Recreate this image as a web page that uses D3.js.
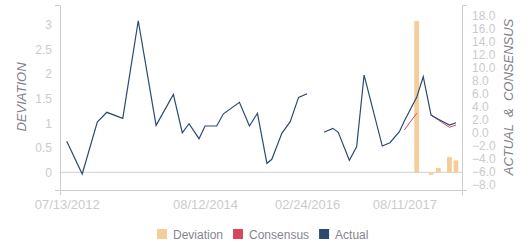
<!DOCTYPE html>
<html>
<head>
<meta charset="utf-8">
<script src="https://cdn.jsdelivr.net/npm/d3@7/dist/d3.min.js"></script>
<style>
	body {margin: 0; background: #fff;}
	svg text {font-family: "Liberation Sans", Arial, sans-serif;}
</style>
</head>
<body>
<div id="chart"></div>
<script>
(function(){
	// quarterly report dates (null actual = gap in the line)
	var dates = ['2012-07-13','2012-10-06','2012-12-28','2013-02-18','2013-05-17','2013-08-10','2013-11-16',
		'2014-02-19','2014-04-09','2014-05-16','2014-07-10','2014-08-12','2014-10-15','2014-11-21',
		'2015-02-17','2015-04-13','2015-05-27','2015-07-18','2015-08-14','2015-10-08','2015-11-23',
		'2016-01-08','2016-02-24','2016-04-10','2016-05-27','2016-07-14','2016-08-13','2016-10-13',
		'2016-11-22','2017-01-02','2017-04-12','2017-05-24','2017-07-15','2017-08-11','2017-10-18',
		'2017-11-23','2018-01-05','2018-02-14','2018-04-16','2018-05-22'];
	var actual = [-1.37,-6.41,1.60,3.10,2.17,17.22,1.09,
		5.87,-0.05,1.34,-0.97,0.99,0.99,2.87,
		4.64,0.99,2.95,-4.76,-4.15,-0.14,1.65,
		5.41,5.97,null,0.02,0.63,0.02,-4.30,
		-2.21,8.85,-2.10,-1.59,0.11,1.76,5.41,
		8.59,2.68,2.02,1.14,1.50];
	var consensus = [null,null,null,null,null,null,null,
		null,null,null,null,null,null,null,
		null,null,null,null,null,null,null,
		null,null,null,null,null,null,null,
		null,null,null,null,null,0.37,2.95,
		null,2.68,1.91,0.79,1.14];
	var deviation = [null,null,null,null,null,null,null,
		null,null,null,null,null,null,null,
		null,null,null,null,null,null,null,
		null,null,null,null,null,null,null,
		null,null,null,null,null,null,3.08,
		null,-0.05,0.09,0.31,0.245];
	var xTicks = ['2012-07-13','2014-08-12','2016-02-24','2017-08-11'];
	var leftTicks = [0, 0.5, 1, 1.5, 2, 2.5, 3];
	var rightTicks = [-8, -6, -4, -2, 0, 2, 4, 6, 8, 10, 12, 14, 16, 18];
	var series = ['Deviation', 'Consensus', 'Actual'];
	var colors = ['#f5cd9b', '#d5475c', '#2c4a70'];

	var parse = d3.timeParse('%Y-%m-%d');
	var fmt = d3.timeFormat('%m/%d/%Y');
	var width = 531, height = 250;
	var left = 60, right = 462, top = 5, bottom = 190;

	var rows = dates.map(function(d, i) {
		return {date: parse(d), actual: actual[i], consensus: consensus[i], deviation: deviation[i]};
	});

	var svg = d3.select('#chart').append('svg')
		.attr('width', width)
		.attr('height', height);

	var x = d3.scaleTime()
		.domain([parse('2012-06-06'), parse('2018-06-24')])
		.range([left, right]);
	var yL = d3.scaleLinear().domain([-0.36, 3.407]).range([bottom, top]);
	var yR = d3.scaleLinear().domain([-8.88, 19.65]).range([bottom, top]);

	// zero line of the deviation axis
	svg.append('line')
		.attr('x1', left).attr('x2', right)
		.attr('y1', yL(0)).attr('y2', yL(0))
		.style('stroke', '#d0d0d0');

	// bars
	svg.append('g').selectAll('rect')
		.data(rows.filter(function(d) {return d.deviation !== null;}))
		.enter().append('rect')
			.attr('x', function(d) {return x(d.date) - 2.4;})
			.attr('width', 4.8)
			.attr('y', function(d) {return Math.min(yL(d.deviation), yL(0));})
			.attr('height', function(d) {return Math.abs(yL(d.deviation) - yL(0));})
			.style('fill', colors[0]);

	var lineOf = function(key) {
		return d3.line()
			.defined(function(d) {return d[key] !== null;})
			.x(function(d) {return x(d.date);})
			.y(function(d) {return yR(d[key]);});
	};

	svg.append('path')
		.datum(rows)
		.attr('d', lineOf('consensus'))
		.style('fill', 'none')
		.style('stroke', colors[1])
		.style('stroke-width', 1);

	svg.append('path')
		.datum(rows)
		.attr('d', lineOf('actual'))
		.style('fill', 'none')
		.style('stroke', colors[2])
		.style('stroke-width', 1.2);

	// axes
	var styleAxis = function(size) {
		return function(g) {
			g.select('.domain').style('stroke', '#cccccc');
			g.selectAll('text')
				.style('font-size', size)
				.style('fill', '#cbcbcb');
		};
	};

	svg.append('g')
		.attr('transform', 'translate(' + left + ',0)')
		.call(d3.axisLeft(yL).tickValues(leftTicks).tickSizeInner(0).tickSizeOuter(5).tickPadding(8)
			.tickFormat(d3.format('')))
		.call(styleAxis('12px'));

	svg.append('g')
		.attr('transform', 'translate(' + right + ',0)')
		.call(d3.axisRight(yR).tickValues(rightTicks).tickSizeInner(0).tickSizeOuter(5).tickPadding(10)
			.tickFormat(d3.format('.1f')))
		.call(styleAxis('12px'));

	svg.append('g')
		.attr('transform', 'translate(0,' + bottom + ')')
		.call(d3.axisBottom(x).tickValues(xTicks.map(parse)).tickSizeInner(0).tickSizeOuter(5).tickPadding(10)
			.tickFormat(fmt))
		.call(styleAxis('13px'));

	svg.selectAll('.tick line').remove();

	// axis titles
	svg.append('text')
		.attr('transform', 'translate(26,97) rotate(-90)')
		.attr('text-anchor', 'middle')
		.style('font-size', '13px')
		.style('font-style', 'italic')
		.style('fill', '#7f7f8a')
		.text('DEVIATION');

	svg.append('text')
		.attr('transform', 'translate(513,97) rotate(-90)')
		.attr('text-anchor', 'middle')
		.style('font-size', '13px')
		.style('font-style', 'italic')
		.style('fill', '#7f7f8a')
		.style('white-space', 'pre')
		.text('ACTUAL  &  CONSENSUS');

	// legend
	var legend = svg.append('g');
	var pos = 0;
	series.forEach(function(name, i) {
		var item = legend.append('g').attr('transform', 'translate(' + pos + ',0)');
		item.append('rect')
			.attr('x', 0).attr('y', -5)
			.attr('width', 10).attr('height', 10)
			.style('fill', colors[i]);
		var t = item.append('text')
			.attr('x', 16).attr('y', 4.5)
			.style('font-size', '12px')
			.style('fill', '#858590')
			.text(name);
		pos += 16 + t.node().getComputedTextLength() + 10;
	});
	legend.attr('transform', 'translate(' + (157) + ',234)');
})();
</script>
</body>
</html>
